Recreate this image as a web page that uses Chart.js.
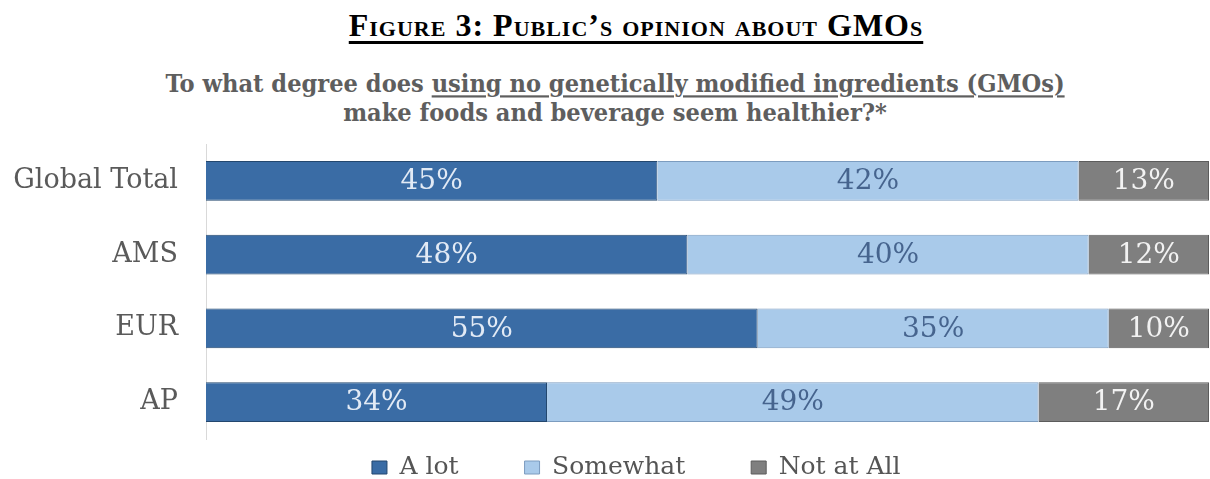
<!DOCTYPE html>
<html>
<head>
<meta charset="utf-8">
<script src="https://cdn.jsdelivr.net/npm/chart.js@4"></script>
<style>
  html, body { margin: 0; padding: 0; background: #fff; }
  body { width: 1210px; height: 479px; position: relative; overflow: hidden; }
  .fig-title {
    position: absolute; left: 0; width: 1272px; top: 9px; height: 32px; line-height: 32px;
    text-align: center; font-family: "Liberation Serif", serif; font-weight: bold; font-size: 32px;
    font-variant: small-caps; letter-spacing: 1px; color: #000;
    text-decoration: underline; text-decoration-thickness: 3px; text-underline-offset: 5px;
  }
  .sub {
    position: absolute; left: 0; width: 1230px; height: 24px; line-height: 24px; text-align: center;
    font-family: "DejaVu Serif", serif; font-weight: bold; font-size: 22.6px; color: #5e5e5e;
    transform: scaleY(1.1); transform-origin: 50% 19.8px;
  }
  .sub u { text-decoration-thickness: 2px; text-underline-offset: 3px; }
  .chart-box { position: absolute; left: 0; top: 130px; width: 1210px; height: 360px; }
</style>
</head>
<body>
<div class="fig-title">Figure 3: Public’s opinion about GMOs</div>
<div class="sub" style="top:71.5px">To what degree does <u>using no genetically modified ingredients (GMOs)</u></div>
<div class="sub" style="top:101.2px">make foods and beverage seem healthier?*</div>
<div class="chart-box"><canvas id="chart"></canvas></div>
<script>
const categories = ['Global Total', 'AMS', 'EUR', 'AP'];
const aLot = [45, 48, 55, 34];
const somewhat = [42, 40, 35, 49];
const notAtAll = [13, 12, 10, 17];

const labelColors = ['#e2eaf5', '#46648e', '#f2f2f2'];

// percent value centred in each segment
const segmentLabels = {
  id: 'segmentLabels',
  afterDatasetsDraw(chart) {
    const ctx = chart.ctx;
    ctx.save();
    ctx.font = '28px "DejaVu Serif", serif';
    ctx.textAlign = 'center';
    ctx.textBaseline = 'middle';
    chart.data.datasets.forEach((ds, i) => {
      chart.getDatasetMeta(i).data.forEach((bar, j) => {
        ctx.fillStyle = labelColors[i];
        ctx.fillText(ds.data[j] + '%', (bar.x + bar.base) / 2, bar.y + 1);
      });
    });
    ctx.restore();
  }
};

new Chart(document.getElementById('chart'), {
  type: 'bar',
  data: {
    labels: categories,
    datasets: [
      { label: 'A lot', data: aLot, backgroundColor: '#3a6ca5', borderColor: '#23476e', borderWidth: 1 },
      { label: 'Somewhat', data: somewhat, backgroundColor: '#a9caea', borderColor: '#7c9cbf', borderWidth: 1 },
      { label: 'Not at All', data: notAtAll, backgroundColor: '#7f7f7f', borderColor: '#5c5c5c', borderWidth: 1 }
    ]
  },
  options: {
    indexAxis: 'y',
    responsive: true,
    maintainAspectRatio: false,
    animation: false,
    categoryPercentage: 1,
    barPercentage: 0.54,
    layout: { padding: { top: 14, right: 1, left: 0, bottom: 0 } },
    plugins: {
      legend: {
        position: 'bottom',
        fullSize: false,
        labels: {
          boxWidth: 15, boxHeight: 13, padding: 16, color: '#555',
          font: { family: '"DejaVu Serif", serif', size: 25 },
          // trailing space spreads the items and nudges the centred group left, like the original
          generateLabels(chart) {
            const items = Chart.defaults.plugins.legend.labels.generateLabels(chart);
            items.forEach((it, i) => {
              it.text += i < items.length - 1 ? '\u2002'.repeat(4) : '\u2002'.repeat(11) + '\u2009';
            });
            return items;
          }
        }
      },
      tooltip: { enabled: false }
    },
    scales: {
      x: { stacked: true, min: 0, max: 100, display: false },
      y: {
        stacked: true,
        grid: { display: false, drawTicks: false },
        border: { display: true, color: '#d9d9d9' },
        ticks: { color: '#5a5a5a', padding: 28, font: { family: '"DejaVu Serif", serif', size: 27 } },
        afterFit: s => { s.width = 206; s.paddingTop = 0; s.paddingBottom = 0; }
      }
    }
  },
  plugins: [segmentLabels]
});
</script>
</body>
</html>
